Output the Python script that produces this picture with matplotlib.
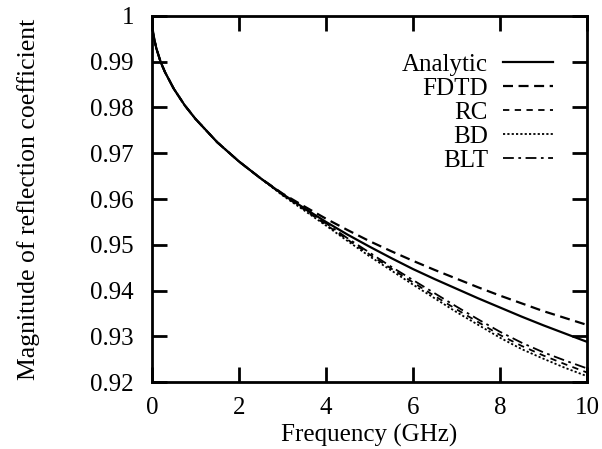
import matplotlib
matplotlib.use("Agg")
from matplotlib import pyplot as plt

# 频率 (GHz)
freq = [0.0, 0.02, 0.05, 0.1, 0.2, 0.3, 0.5, 0.75, 1.0, 1.5, 2.0, 2.5, 3.0, 3.5,
        4.0, 4.5, 5.0, 5.5, 6.0, 6.5, 7.0, 7.5, 8.0, 8.5, 9.0, 9.5, 10.0]

# 反射系数幅值
analytic = [0.9990, 0.9968, 0.9950, 0.9929, 0.9899, 0.9877, 0.9841, 0.9805, 0.9775,
            0.9724, 0.9682, 0.9645, 0.9611, 0.9580, 0.9550, 0.9522, 0.9496, 0.9471,
            0.9447, 0.9425, 0.9404, 0.9383, 0.9363, 0.9343, 0.9324, 0.9306, 0.9288]
fdtd = [0.9990, 0.9968, 0.9950, 0.9929, 0.9899, 0.9877, 0.9841, 0.9805, 0.9775,
        0.9724, 0.9682, 0.9645, 0.9612, 0.9584, 0.9557, 0.9532, 0.9508, 0.9486,
        0.9465, 0.9445, 0.9426, 0.9407, 0.9389, 0.9372, 0.9355, 0.9340, 0.9325]
rc = [0.9990, 0.9968, 0.9950, 0.9929, 0.9899, 0.9877, 0.9841, 0.9805, 0.9775,
      0.9724, 0.9682, 0.9645, 0.9609, 0.9577, 0.9544, 0.9511, 0.9479, 0.9448,
      0.9418, 0.9388, 0.9359, 0.9331, 0.9303, 0.9279, 0.9258, 0.9239, 0.9221]
bd = [0.9990, 0.9968, 0.9950, 0.9929, 0.9899, 0.9877, 0.9841, 0.9805, 0.9775,
      0.9724, 0.9682, 0.9645, 0.9608, 0.9575, 0.9542, 0.9508, 0.9475, 0.9444,
      0.9413, 0.9383, 0.9353, 0.9325, 0.9297, 0.9272, 0.9251, 0.9231, 0.9213]
blt = [0.9990, 0.9968, 0.9950, 0.9929, 0.9899, 0.9877, 0.9841, 0.9805, 0.9775,
       0.9724, 0.9682, 0.9645, 0.9610, 0.9579, 0.9547, 0.9514, 0.9483, 0.9452,
       0.9423, 0.9394, 0.9365, 0.9337, 0.9310, 0.9286, 0.9265, 0.9247, 0.9230]

x_ticks = [0, 2, 4, 6, 8, 10]
y_ticks = [0.92, 0.93, 0.94, 0.95, 0.96, 0.97, 0.98, 0.99, 1.0]
y_tick_labels = ['0.92', '0.93', '0.94', '0.95', '0.96', '0.97', '0.98', '0.99', '1']

plt.rcParams['font.family'] = ['Liberation Serif', 'DejaVu Serif']
plt.rcParams['font.size'] = 18

fig = plt.figure(figsize=(6.02, 4.49), dpi=100)
ax = fig.add_axes([0.2525, 0.149, 0.7225, 0.8155])

lw = 1.6
ax.plot(freq, analytic, color='black', lw=lw, ls='-', label='Analytic')
ax.plot(freq, fdtd, color='black', lw=lw, ls=(0, (4.5, 2.5)), label='FDTD')
ax.plot(freq, rc, color='black', lw=lw - 0.3, ls=(0, (3.5, 3)), label='RC')
ax.plot(freq, bd, color='black', lw=lw - 0.3, ls=(0, (1.2, 1.2)), label='BD')
ax.plot(freq, blt, color='black', lw=lw - 0.3, ls=(0, (6, 2.5, 1.5, 2.5)), label='BLT')

ax.set_xlim(0, 10)
ax.set_ylim(0.92, 1.0)
ax.set_xticks(x_ticks)
ax.set_xticklabels([str(t) for t in x_ticks])
ax.set_yticks(y_ticks)
ax.set_yticklabels(y_tick_labels)
ax.tick_params(direction='in', length=11, width=2, top=True, right=True)
ax.tick_params(axis='x', pad=11)
ax.tick_params(axis='y', pad=13)
for sp in ax.spines.values():
    sp.set_linewidth(2)

ax.set_xlabel('Frequency (GHz)', labelpad=3)
ax.set_ylabel('Magnitude of reflection coefficient', labelpad=36, fontsize=18.5)

ax.legend(loc='upper right', bbox_to_anchor=(0.922, 0.897), frameon=False,
          markerfirst=False, handlelength=2.0, handletextpad=0.6,
          labelspacing=0.06, borderpad=0, borderaxespad=0)

fig.savefig('out.png', dpi=100)
